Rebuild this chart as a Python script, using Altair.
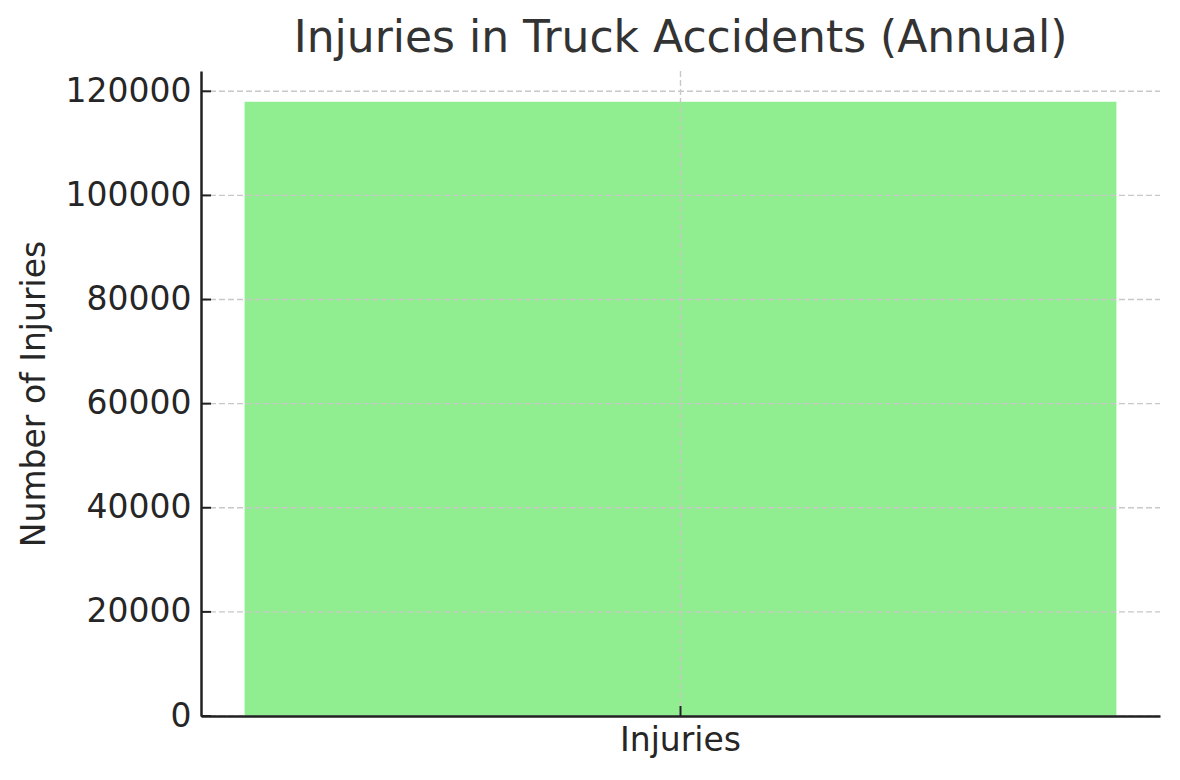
import altair as alt
import pandas as pd

categories = ["Injuries"]
values = [118000]
y_ticks = [0, 20000, 40000, 60000, 80000, 100000, 120000]

FONT = "DejaVu Sans"
W, H = 959, 645
ydom = [0, 123900]

bar_df = pd.DataFrame({"category": categories, "value": values})
tick_df = pd.DataFrame({"v": y_ticks})

yscale = alt.Scale(domain=ydom, nice=False, zero=True)
xscale = alt.Scale(paddingInner=0, paddingOuter=0.05)

GRID_COLOR = "#c8c8c8"
GRID_DASH = [6, 3]

xaxis = alt.Axis(title=None, labelAngle=0, grid=False,
                 tickSize=0, labelPadding=8, labelFontSize=33,
                 labelFont=FONT, labelColor="#262626",
                 domainColor="#222222", domainWidth=2.5, zindex=1)
yaxis = alt.Axis(title="Number of Injuries", values=y_ticks, format="d",
                 grid=False, tickSize=0, labelPadding=10, labelFontSize=33,
                 labelFont=FONT, labelColor="#262626",
                 titleFont=FONT, titleFontSize=33, titleFontWeight="normal",
                 titleColor="#262626", titlePadding=14,
                 domainColor="#222222", domainWidth=2.5, zindex=1)

bars = alt.Chart(bar_df).mark_bar(color="#90EE90").encode(
    x=alt.X("category:N", scale=xscale, axis=xaxis),
    y=alt.Y("value:Q", scale=yscale, axis=yaxis),
)

ygrid = alt.Chart(tick_df).mark_rule(color=GRID_COLOR, strokeWidth=1.4,
                                     strokeDash=GRID_DASH).encode(
    y=alt.Y("v:Q", scale=yscale, axis=yaxis),
    x=alt.value(0),
    x2=alt.value(W),
)

xgrid = alt.Chart(bar_df).mark_rule(color=GRID_COLOR, strokeWidth=1.4,
                                    strokeDash=GRID_DASH).encode(
    x=alt.X("category:N", scale=xscale, axis=xaxis),
    y=alt.value(0),
    y2=alt.value(H),
)

yticks = alt.Chart(tick_df).mark_rule(color="#222222", strokeWidth=2).encode(
    y=alt.Y("v:Q", scale=yscale, axis=yaxis),
    x=alt.value(0),
    x2=alt.value(10),
)

xtick = alt.Chart(bar_df).mark_rule(color="#222222", strokeWidth=2).encode(
    x=alt.X("category:N", scale=xscale, axis=xaxis),
    y=alt.value(H),
    y2=alt.value(H - 10),
)

chart = alt.layer(bars, ygrid, xgrid, yticks, xtick).properties(
    width=W,
    height=H,
    autosize=alt.AutoSizeParams(type="none"),
    padding={"left": 193, "top": 63, "right": 12, "bottom": 50},
    title=alt.TitleParams("Injuries in Truck Accidents (Annual)", font=FONT,
                          fontSize=44, fontWeight="normal", color="#333333",
                          anchor="middle", offset=9),
).configure_view(stroke=None)

chart.save("out.html", embed_options={"renderer": "svg", "actions": False})
